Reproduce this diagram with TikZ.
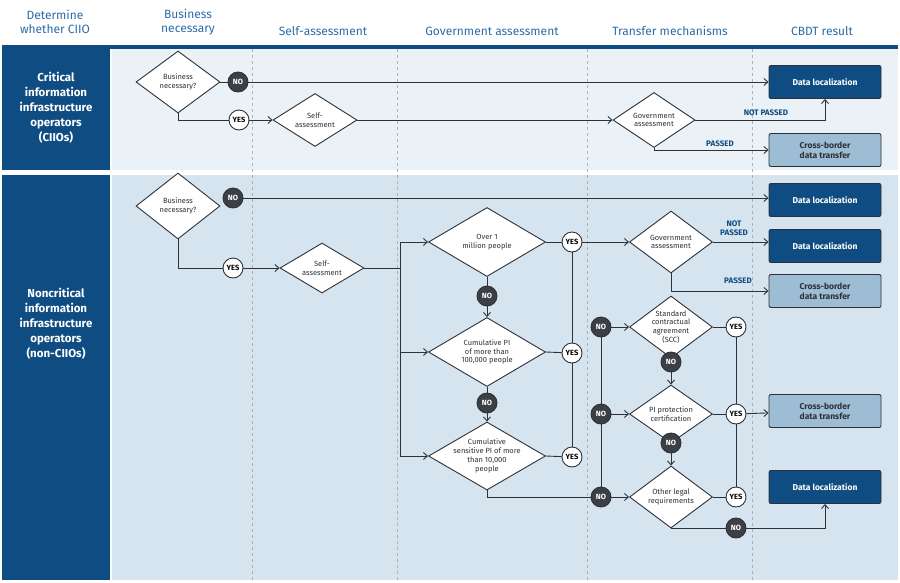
\documentclass[tikz,border=0pt]{standalone}
\usepackage{fontspec}
\setmainfont{Fira Sans}
\usetikzlibrary{shapes.geometric,arrows.meta,positioning}
\definecolor{navy}{HTML}{0E4C82}
\definecolor{ink}{HTML}{2E3238}
\definecolor{paleA}{HTML}{EAF1F7}
\definecolor{paleB}{HTML}{D6E4EF}
\definecolor{boxlight}{HTML}{9DBDD4}
\definecolor{headblue}{HTML}{2C6CA8}
\definecolor{nogray}{HTML}{3C3F44}
\tikzset{
  dia/.style={diamond, draw=ink, fill=white, line width=0.9pt, inner sep=0pt},
  dtext/.style={align=center, inner sep=0pt, font=\fontsize{7.5}{8.8}\selectfont, text=ink},
  yes/.style={circle, draw=ink, fill=white, line width=0.9pt, minimum size=20pt, inner sep=0pt, font=\fontsize{7.5}{8}\selectfont\bfseries},
  no/.style={yes, fill=nogray, text=white},
  result/.style={rounded corners=2pt, draw=ink, line width=0.9pt, minimum width=112pt, minimum height=33pt, align=center, font=\fontsize{8.5}{10}\selectfont\bfseries},
  dloc/.style={result, fill=navy, text=white},
  cbdt/.style={result, fill=boxlight, text=ink},
  line/.style={draw=ink, line width=0.9pt},
  arr/.style={line, -{Straight Barb[length=4pt,width=7pt]}},
  head/.style={text=headblue, align=center, font=\fontsize{12}{14}\selectfont\medseries},
  side/.style={text=white, align=center, font=\fontsize{11.5}{15}\selectfont\bfseries},
  tag/.style={text=navy, align=center, font=\fontsize{8}{9}\selectfont\bfseries}
}
\providecommand\medseries{\fontseries{m}\selectfont}
\begin{document}
\begin{tikzpicture}[x=1pt,y=-1pt]
\useasboundingbox (0,0) rectangle (900,582);
\fill[white] (0,0) rectangle (900,582);

% bands
\fill[navy] (2,45) rectangle (898,49);
\fill[paleA] (112,49) rectangle (898,170);
\fill[navy] (2,49) rectangle (110,170);
\fill[paleB] (112,175) rectangle (898,580);
\fill[navy] (2,175) rectangle (110,580);
\foreach \x in {252,397,587,752}
  \draw[gray!60, dashed, line width=0.6pt] (\x,49) -- (\x,580);

% headers
\node[head] (h1) at (55,22) {Determine\\whether CIIO};
\node[head] (h2) at (188,22) {Business\\necessary};
\node[head] (h3) at (323,31) {Self-assessment};
\node[head] (h4) at (492,31) {Government assessment};
\node[head] (h5) at (670,31) {Transfer mechanisms};
\node[head] (h6) at (822,31) {CBDT result};
\node[side] (s1) at (56,108) {Critical\\information\\infrastructure\\operators\\(CIIOs)};
\node[side] (s2) at (56,324) {Noncritical\\information\\infrastructure\\operators\\(non-CIIOs)};

% CIIO row
\node[dia, minimum width=84pt, minimum height=62pt] (bn1) at (178,82) {};
\node[dtext] (bn1t) at (bn1) {Business\\necessary?};
\node[no] (no1) at (238,82) {NO};
\node[yes] (yes1) at (239,120) {YES};
\node[dia, minimum width=84pt, minimum height=53pt] (sa1) at (315,120) {};
\node[dtext] (sa1t) at (sa1) {Self-\\assessment};
\node[dia, minimum width=82pt, minimum height=55pt] (ga1) at (654,120) {};
\node[dtext] (ga1t) at (ga1) {Government\\assessment};
\node[dloc] (dl1) at (825,82) {Data localization};
\node[cbdt] (cb1) at (825,150) {Cross-border\\data transfer};

\draw[line] (bn1.east) -- (no1);
\draw[arr] (no1) -- (dl1);
\draw[line] (bn1.south) |- (yes1);
\draw[arr] (yes1) -- (sa1);
\draw[arr] (sa1) -- (ga1);
\draw[arr] (ga1.east) -| (dl1.south);
\draw[arr] (ga1.south) |- (cb1);
\node[tag] (np1) at (766,113) {NOT PASSED};
\node[tag] (p1) at (720,144) {PASSED};

% non-CIIO row
\node[dia, minimum width=84pt, minimum height=66pt] (bn2) at (178,206) {};
\node[dtext] (bn2t) at (bn2) {Business\\necessary?};
\node[no] (no2) at (233,198) {NO};
\node[yes] (yes2) at (233,268) {YES};
\node[dia, minimum width=84pt, minimum height=50pt] (sa2) at (322,268) {};
\node[dtext] (sa2t) at (sa2) {Self-\\assessment};
\node[dloc] (dl2) at (825,200) {Data localization};

\draw[arr] (no2) -- (no2 -| dl2.west);
\draw[line] (bn2.south) |- (yes2);
\draw[arr] (yes2) -- (sa2);

\node[dia, minimum width=117pt, minimum height=69pt] (q1) at (487,242) {};
\node[dtext] (q1t) at (q1) {Over 1\\million people};
\node[dia, minimum width=117pt, minimum height=69pt] (q2) at (487,352) {};
\node[dtext] (q2t) at (q2) {Cumulative PI\\of more than\\100,000 people};
\node[dia, minimum width=117pt, minimum height=68pt] (q3) at (487,456) {};
\node[dtext] (q3t) at (q3) {Cumulative\\sensitive PI of more\\than 10,000\\people};
\node[no] (nq1) at (487,296) {NO};
\node[no] (nq2) at (487,403) {NO};
\node[yes] (yq1) at (572,242) {YES};
\node[yes] (yq2) at (572,353) {YES};
\node[yes] (yq3) at (572,457) {YES};

\draw[line] (sa2.east) -- (400,268) coordinate (spl);
\draw[line] (spl |- q1) -- (spl |- q3);
\foreach \q in {q1,q2,q3}
  \draw[arr] (spl |- \q) -- (\q.west);
\draw[line] (q1.south) -- (nq1);
\draw[arr] (nq1) -- (q2.north);
\draw[line] (q2.south) -- (nq2);
\draw[arr] (nq2) -- (q3.north);
\foreach \q/\y in {q1/yq1,q2/yq2,q3/yq3}
  \draw[line] (\q.east) -- (\y);
\draw[line] (yq1) -- (yq2) -- (yq3);

\node[dia, minimum width=83pt, minimum height=62pt] (ga2) at (671,242) {};
\node[dtext] (ga2t) at (ga2) {Government\\assessment};
\node[dloc] (dl3) at (825,246) {Data localization};
\node[cbdt] (cb2) at (825,291) {Cross-border\\data transfer};
\draw[arr] (yq1) -- (ga2);
\draw[arr] (ga2.east) -- (ga2.east -| dl3.west);
\draw[arr] (ga2.south) |- (cb2);
\node[tag] (np2) at (734,228) {NOT\\PASSED};
\node[tag] (p2) at (738,281) {PASSED};

\node[dia, minimum width=83pt, minimum height=62pt] (m1) at (671,327) {};
\node[dtext] (m1t) at (m1) {Standard\\contractual\\agreement\\(SCC)};
\node[dia, minimum width=83pt, minimum height=58pt] (m2) at (671,414) {};
\node[dtext] (m2t) at (m2) {PI protection\\certification};
\node[dia, minimum width=83pt, minimum height=62pt] (m3) at (671,497) {};
\node[dtext] (m3t) at (m3) {Other legal\\requirements};
\node[no] (nm1) at (601,327) {NO};
\node[no] (nm2) at (601,414) {NO};
\node[no] (nm3) at (601,497) {NO};
\node[no] (nd1) at (671,362) {NO};
\node[no] (nd2) at (671,443) {NO};
\node[yes] (ym1) at (736,327) {YES};
\node[yes] (ym2) at (736,414) {YES};
\node[yes] (ym3) at (736,497) {YES};
\node[no] (nd3) at (736,528) {NO};
\node[cbdt] (cb3) at (825,411) {Cross-border\\data transfer};
\node[dloc] (dl4) at (825,487) {Data localization};

\draw[line] (q3.south) |- (nm3);
\draw[line] (nm1) -- (nm2) -- (nm3);
\draw[arr] (nm1) -- (m1);
\draw[arr] (nm2) -- (m2);
\draw[arr] (nm3) -- (m3);
\draw[arr] (nd1) -- (m2.north);
\draw[arr] (nd2) -- (m3.north);
\draw[line] (m1) -- (ym1);
\draw[line] (m2) -- (ym2);
\draw[line] (m3) -- (ym3);
\draw[line] (ym1) -- (ym2) -- (ym3);
\draw[arr] (ym2) -- (cb3);
\draw[line] (m3.south) |- (nd3);
\draw[arr] (nd3) -| (dl4.south);
\end{tikzpicture}
\end{document}
